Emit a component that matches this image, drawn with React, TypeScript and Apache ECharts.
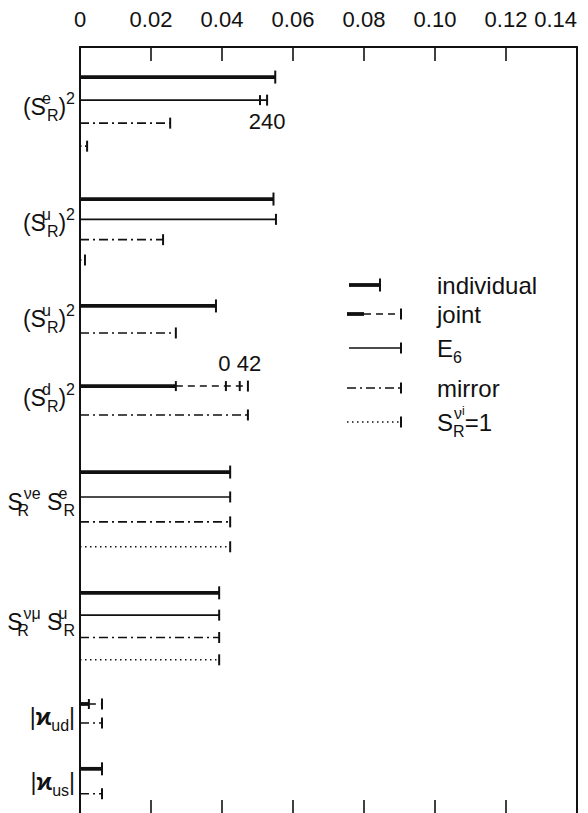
import { useEffect, useRef } from "react";
import * as echarts from "echarts";

const FONT = "'Liberation Sans', Arial, sans-serif";
const INK = "#111";

// ---- axis ----
const xMin = 0;
const xMax = 0.14;
const xStep = 0.02;

// ---- categories (groups) ----
const groupLabels = [
  "{b|(S}{upz|e}{dn|R}{b|)}{up|2}",
  "{b|(S}{upz|μ}{dn|R}{b|)}{up|2}",
  "{b|(S}{upz|u}{dn|R}{b|)}{up|2}",
  "{b|(S}{upz|d}{dn|R}{b|)}{up|2}",
  "{b|S}{dnz|R}{up|νe}{b| S}{upz|e}{dn|R}",
  "{b|S}{dnz|R}{up|νμ}{b| S}{upz|μ}{dn|R}",
  "{b||}{k|ϰ}{dn|ud}{b||}",
  "{b||}{k|ϰ}{dn|us}{b||}",
];

// ---- lines (one per bound) ----
const lineGroup = [0, 0, 0, 0, 1, 1, 1, 1, 2, 2, 3, 3, 4, 4, 4, 4, 5, 5, 5, 5, 6, 6, 7, 7];
const lineKind = [
  "individual", "E6", "mirror", "unit",
  "individual", "E6", "mirror", "unit",
  "individual", "mirror",
  "joint", "mirror",
  "individual", "E6", "mirror", "unit",
  "individual", "E6", "mirror", "unit",
  "joint", "mirror",
  "individual", "mirror",
];
const lineValue = [
  0.055, 0.0527, 0.0254, 0.002,
  0.0545, 0.0552, 0.0234, 0.0014,
  0.0383, 0.027,
  0.0473, 0.0473,
  0.0423, 0.0423, 0.0423, 0.0423,
  0.0392, 0.0392, 0.0392, 0.0392,
  0.0062, 0.0062,
  0.0062, 0.0062,
];
// joint bounds: where the individual (thick) part ends
const jointLines = [10, 20];
const jointSolidEnd = [0.027, 0.0025];
// extra tick marks on some lines
const extraTickLines = [1, 10];
const extraTickValues = [[0.0507], [0.0411, 0.045]];
// annotations
const noteLines = [1, 10];
const noteTexts = ["240", "0 42"];
const noteValues = [0.0527, 0.045];

// ---- legend ----
const legendKinds = ["individual", "joint", "E6", "mirror", "unit"];
const legendTexts = ["individual", "joint", "{b|E}{dn|6}", "mirror", "{b|S}{dnz|R}{up|ν}{upi|i}{b|=1}"];

// ---- layout (slot units along the vertical axis) ----
const yMaxUnits = 32.6;
const groupStart = [1.28, 6.47, 11.02, 14.43, 18.09, 23.23, 27.96, 30.72];
const groupStep = [0.98, 0.865, 1.15, 1.23, 1.06, 0.95, 0.81, 1.06];
const groupLabelPos = [2.55, 7.49, 11.57, 14.94, 19.36, 24.47, 28.51, 31.28];
const noteDy = [21, -23];
const legendX0 = 347;
const legendX1 = 401;
const legendTextX = 437;
const legendRowY = [285, 314, 348, 388, 422];

const labelRich = (size: number, sub: number, lh: number) => ({
  b: { fontSize: size, fontFamily: FONT, color: INK, lineHeight: lh },
  k: { fontSize: size, fontFamily: FONT, fontWeight: "bold", color: INK, lineHeight: lh },
  up: { fontSize: sub, fontFamily: FONT, color: INK, lineHeight: sub, verticalAlign: "top" },
  upz: { fontSize: sub, fontFamily: FONT, color: INK, lineHeight: sub, verticalAlign: "top", width: 1, align: "left" },
  dn: { fontSize: sub, fontFamily: FONT, color: INK, lineHeight: sub, verticalAlign: "bottom" },
  dnz: { fontSize: sub, fontFamily: FONT, color: INK, lineHeight: sub, verticalAlign: "bottom", width: 1, align: "left" },
  upi: { fontSize: sub - 4, fontFamily: FONT, color: INK, lineHeight: sub + 8, verticalAlign: "top" },
});

function styleFor(kind: string) {
  if (kind === "individual") return { lineWidth: 3.8, lineDash: null as any };
  if (kind === "E6") return { lineWidth: 1.6, lineDash: null as any };
  if (kind === "mirror") return { lineWidth: 1.6, lineDash: [9, 4, 2, 4] };
  if (kind === "unit") return { lineWidth: 1.6, lineDash: [1.5, 3.5] };
  return { lineWidth: 1.6, lineDash: [7, 5] };
}

function hLine(x1: number, x2: number, y: number, kind: string) {
  const s = styleFor(kind);
  return {
    type: "line",
    shape: { x1, y1: y, x2, y2: y },
    style: { stroke: INK, lineWidth: s.lineWidth, lineDash: s.lineDash },
  };
}
function vTick(x: number, y: number, h: number, w = 2) {
  return {
    type: "line",
    shape: { x1: x, y1: y - h, x2: x, y2: y + h },
    style: { stroke: INK, lineWidth: w },
  };
}

export default function App() {
  const ref = useRef<HTMLDivElement>(null);
  useEffect(() => {
    if (!ref.current) return;
    const chart = echarts.init(ref.current, undefined, { renderer: "svg" });

    const withinIdx: number[] = [];
    const counts: Record<number, number> = {};
    lineGroup.forEach((g) => {
      counts[g] = counts[g] ?? 0;
      withinIdx.push(counts[g]);
      counts[g] += 1;
    });
    const yPos = lineGroup.map((g, i) => groupStart[g] + groupStep[g] * withinIdx[i]);
    const data = lineValue.map((v, i) => [v, yPos[i]]);

    const renderItem = (params: any, api: any) => {
      const i = params.dataIndex;
      const v = api.value(0);
      const y = api.value(1);
      const kind = lineKind[i];
      const p0 = api.coord([0, y]);
      const p1 = api.coord([v, y]);
      const yy = p0[1];
      const children: any[] = [];
      const ji = jointLines.indexOf(i);
      if (kind === "joint" && ji >= 0) {
        const pm = api.coord([jointSolidEnd[ji], y]);
        children.push(hLine(p0[0], pm[0], yy, "individual"));
        children.push(hLine(pm[0], p1[0], yy, "joint"));
        children.push(vTick(pm[0], yy, 5));
        children.push(vTick(p1[0], yy, 5.5));
      } else {
        children.push(hLine(p0[0], p1[0], yy, kind));
        children.push(vTick(p1[0], yy, kind === "individual" ? 6.5 : 5.5));
      }
      const ei = extraTickLines.indexOf(i);
      if (ei >= 0) {
        extraTickValues[ei].forEach((t) => {
          const pt = api.coord([t, y]);
          children.push(vTick(pt[0], yy, 5));
        });
      }
      const ni = noteLines.indexOf(i);
      if (ni >= 0) {
        const pn = api.coord([noteValues[ni], y]);
        children.push({
          type: "text",
          x: pn[0],
          y: yy + noteDy[ni],
          style: {
            text: noteTexts[ni],
            fontSize: 22,
            fontFamily: FONT,
            fill: INK,
            align: "center",
            verticalAlign: "middle",
          },
        });
      }
      return { type: "group", children };
    };

    // legend as graphic
    const legendEls: any[] = [];
    legendKinds.forEach((k, r) => {
      const y = legendRowY[r];
      if (k === "individual") {
        legendEls.push(hLine(legendX0 + 2, legendX0 + 33, y, "individual"));
        legendEls.push(vTick(legendX0 + 33, y, 6.5));
      } else if (k === "joint") {
        legendEls.push(hLine(legendX0, legendX0 + 17, y, "individual"));
        legendEls.push(hLine(legendX0 + 17, legendX1, y, "joint"));
        legendEls.push(vTick(legendX1, y, 5.5));
      } else {
        legendEls.push(hLine(legendX0 + (k === "E6" ? 2 : 0), legendX1, y, k));
        legendEls.push(vTick(legendX1, y, 5.5));
      }
      legendEls.push({
        type: "text",
        x: legendTextX,
        y,
        style: {
          text: legendTexts[r],
          fontSize: 24,
          fontFamily: FONT,
          fill: INK,
          verticalAlign: "middle",
          rich: labelRich(24, 16, 34),
        },
      });
    });

    const option: any = {
      animation: false,
      backgroundColor: "#fff",
      grid: { left: 80, right: 11, top: 47, bottom: 0, containLabel: false },
      xAxis: [
        {
          type: "value",
          position: "top",
          min: xMin,
          max: xMax,
          interval: xStep,
          axisLine: { show: true, onZero: false, lineStyle: { color: INK, width: 2 } },
          axisTick: { show: true, inside: true, length: 14, lineStyle: { color: INK, width: 1.6 } },
          splitLine: { show: false },
          axisLabel: {
            show: true,
            margin: 17,
            fontSize: 22,
            lineHeight: 22,
            fontFamily: FONT,
            color: INK,
            alignMaxLabel: "right",
            formatter: (v: number) => (v === 0 ? "0" : v.toFixed(2)),
          },
        },
        {
          type: "value",
          position: "bottom",
          min: xMin,
          max: xMax,
          interval: xStep,
          axisLine: { show: false, onZero: false },
          axisTick: { show: true, inside: true, length: 13, lineStyle: { color: INK, width: 1.6 } },
          splitLine: { show: false },
          axisLabel: { show: false },
        },
      ],
      yAxis: [
        {
          type: "value",
          inverse: true,
          min: 0,
          max: yMaxUnits,
          position: "left",
          axisLine: { show: true, onZero: false, lineStyle: { color: INK, width: 2 } },
          axisTick: { show: false },
          splitLine: { show: false },
          axisLabel: {
            show: true,
            customValues: groupLabelPos,
            margin: 5,
            fontFamily: FONT,
            color: INK,
            rich: labelRich(23, 16, 33),
            formatter: (v: number) => {
              const k = groupLabelPos.findIndex((p) => Math.abs(p - v) < 1e-6);
              return k >= 0 ? groupLabels[k] : "";
            },
          },
        },
        {
          type: "value",
          inverse: true,
          min: 0,
          max: yMaxUnits,
          position: "right",
          axisLine: { show: true, onZero: false, lineStyle: { color: INK, width: 2 } },
          axisTick: { show: false },
          splitLine: { show: false },
          axisLabel: { show: false },
        },
      ],
      series: [
        {
          type: "custom",
          xAxisIndex: 0,
          yAxisIndex: 0,
          clip: false,
          encode: { x: 0, y: 1 },
          data,
          renderItem,
        },
      ],
      graphic: legendEls,
    };
    chart.setOption(option);
    return () => chart.dispose();
  }, []);
  return (
    <div
      ref={ref}
      style={{ position: "fixed", left: 0, top: 0, width: 588, height: 813, background: "#fff" }}
    />
  );
}
